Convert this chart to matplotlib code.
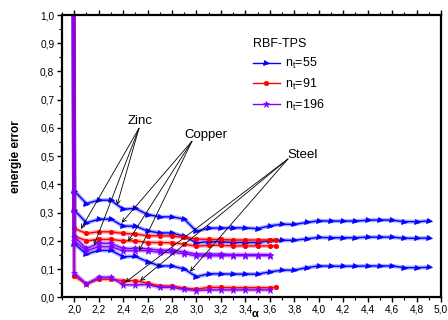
import matplotlib
matplotlib.use("Agg")
import matplotlib.pyplot as plt
from matplotlib.ticker import MultipleLocator, FuncFormatter

plt.rcParams['font.family'] = ['Liberation Sans', 'DejaVu Sans']
plt.rcParams['mathtext.default'] = 'regular'

# ---- data ----
x_55 = [1.98, 2.0, 2.1, 2.2, 2.3, 2.4, 2.5, 2.6, 2.7, 2.8, 2.9, 3.0, 3.1, 3.2, 3.3, 3.4, 3.5,
        3.6, 3.7, 3.8, 3.9, 4.0, 4.1, 4.2, 4.3, 4.4, 4.5, 4.6, 4.7, 4.8, 4.9]
zinc_55 = [3.0, 0.377, 0.332, 0.344, 0.344, 0.312, 0.315, 0.293, 0.285, 0.285, 0.277, 0.234,
           0.245, 0.245, 0.246, 0.246, 0.243, 0.253, 0.259, 0.258, 0.265, 0.271, 0.270, 0.270,
           0.270, 0.273, 0.274, 0.273, 0.268, 0.268, 0.270]
copper_55 = [3.0, 0.309, 0.264, 0.276, 0.277, 0.252, 0.252, 0.235, 0.228, 0.228, 0.216, 0.193,
             0.197, 0.197, 0.194, 0.194, 0.194, 0.200, 0.202, 0.202, 0.207, 0.212, 0.211, 0.211,
             0.211, 0.213, 0.213, 0.213, 0.209, 0.209, 0.210]
steel_55 = [3.0, 0.190, 0.153, 0.166, 0.166, 0.144, 0.145, 0.126, 0.111, 0.111, 0.100, 0.073,
            0.083, 0.083, 0.082, 0.082, 0.082, 0.090, 0.096, 0.096, 0.105, 0.111, 0.110, 0.110,
            0.110, 0.111, 0.111, 0.111, 0.105, 0.105, 0.106]

x_91 = [1.99, 2.0, 2.1, 2.2, 2.3, 2.4, 2.5, 2.6, 2.7, 2.8, 2.9, 3.0, 3.1, 3.2, 3.3, 3.4, 3.5,
        3.6, 3.65]
zinc_91 = [3.0, 0.244, 0.226, 0.232, 0.232, 0.226, 0.224, 0.218, 0.218, 0.217, 0.212, 0.206,
           0.205, 0.205, 0.203, 0.203, 0.203, 0.203, 0.204]
copper_91 = [3.0, 0.217, 0.200, 0.205, 0.205, 0.200, 0.200, 0.194, 0.194, 0.193, 0.188, 0.181,
             0.184, 0.184, 0.182, 0.182, 0.182, 0.182, 0.182]
steel_91 = [3.0, 0.075, 0.047, 0.064, 0.064, 0.059, 0.059, 0.050, 0.040, 0.040, 0.032, 0.029,
            0.035, 0.035, 0.034, 0.034, 0.034, 0.034, 0.035]

x_196 = [1.98, 2.0, 2.1, 2.2, 2.3, 2.4, 2.5, 2.6, 2.7, 2.8, 2.9, 3.0, 3.1, 3.2, 3.3, 3.4, 3.5, 3.6]
zinc_196 = [3.0, 0.215, 0.173, 0.191, 0.191, 0.173, 0.173, 0.172, 0.167, 0.167, 0.161, 0.153,
            0.153, 0.153, 0.151, 0.151, 0.151, 0.151]
copper_196 = [3.0, 0.200, 0.165, 0.179, 0.179, 0.165, 0.165, 0.165, 0.159, 0.159, 0.155, 0.146,
              0.147, 0.147, 0.148, 0.148, 0.148, 0.148]
steel_196 = [3.0, 0.087, 0.047, 0.071, 0.071, 0.044, 0.044, 0.045, 0.035, 0.035, 0.028, 0.024,
             0.026, 0.026, 0.026, 0.026, 0.026, 0.026]

legend_labels = ["n$_t$=55", "n$_t$=91", "n$_t$=196"]

# ---- figure ----
fig = plt.figure(figsize=(4.48, 3.2), dpi=100)
ax = fig.add_axes([0.1384, 0.071, 0.846, 0.882])

groups = [
    (x_55, [zinc_55, copper_55, steel_55], '#0000ff', '>', 3.6, legend_labels[0]),
    (x_91, [zinc_91, copper_91, steel_91], '#ff0000', 'o', 3.2, legend_labels[1]),
    (x_196, [zinc_196, copper_196, steel_196], '#8000ff', '*', 4.6, legend_labels[2]),
]
handles = []
for xs, series, col, mk, ms, lab in groups:
    for i, ys in enumerate(series):
        ax.plot(xs, ys, color=col, lw=3.0, alpha=0.3, solid_capstyle='round')
        h, = ax.plot(xs, ys, color=col, lw=1.0, marker=mk, markersize=ms,
                     markeredgewidth=0.5, markeredgecolor=col, label=lab if i == 0 else None)
        if i == 0:
            handles.append(h)

ax.set_xlim(1.9, 5.0)
ax.set_ylim(0.0, 1.0)

comma = FuncFormatter(lambda v, p: ("%.1f" % v).replace('.', ','))
ax.xaxis.set_major_locator(MultipleLocator(0.2))
ax.xaxis.set_minor_locator(MultipleLocator(0.1))
ax.yaxis.set_major_locator(MultipleLocator(0.1))
ax.yaxis.set_minor_locator(MultipleLocator(0.05))
ax.xaxis.set_major_formatter(comma)
ax.yaxis.set_major_formatter(comma)
ax.tick_params(which='both', direction='out', top=True, right=False, labelsize=7.3, pad=2)
ax.tick_params(which='major', length=3.5, width=1.0)
ax.tick_params(which='minor', length=2, width=0.8)
for s in ax.spines.values():
    s.set_linewidth(1.6)

ax.set_ylabel("energie error", fontsize=8.5, fontweight='bold', labelpad=13)
ax.text(3.475, -0.058, "α", fontsize=8, fontweight='bold', ha='center', va='center',
        transform=ax.transData, clip_on=False)

leg = ax.legend(handles=handles, title="RBF-TPS", loc='upper left',
                bbox_to_anchor=(0.49, 0.935), frameon=False, fontsize=9,
                title_fontsize=9, handlelength=2.2, handletextpad=0.4, labelspacing=0.45,
                borderaxespad=0)
leg._legend_box.align = "left"

# ---- annotations ----
arrow = dict(arrowstyle='->', lw=0.6, color='black', shrinkA=0, shrinkB=0,
             mutation_scale=7)
ax.text(2.54, 0.624, "Zinc", fontsize=9.5, ha='center', va='center')
for tip in [(2.055, 0.242), (2.162, 0.185), (2.35, 0.327)]:
    ax.annotate('', xy=tip, xytext=(2.53, 0.599), arrowprops=arrow)
ax.text(3.08, 0.574, "Copper", fontsize=9.5, ha='center', va='center')
for tip in [(2.388, 0.264), (2.44, 0.198), (2.53, 0.164)]:
    ax.annotate('', xy=tip, xytext=(2.963, 0.553), arrowprops=arrow)
ax.text(3.87, 0.504, "Steel", fontsize=9.5, ha='center', va='center')
for tip in [(2.415, 0.052), (2.538, 0.058), (2.947, 0.091)]:
    ax.annotate('', xy=tip, xytext=(3.748, 0.49), arrowprops=arrow)

fig.savefig("out.png", dpi=100)
